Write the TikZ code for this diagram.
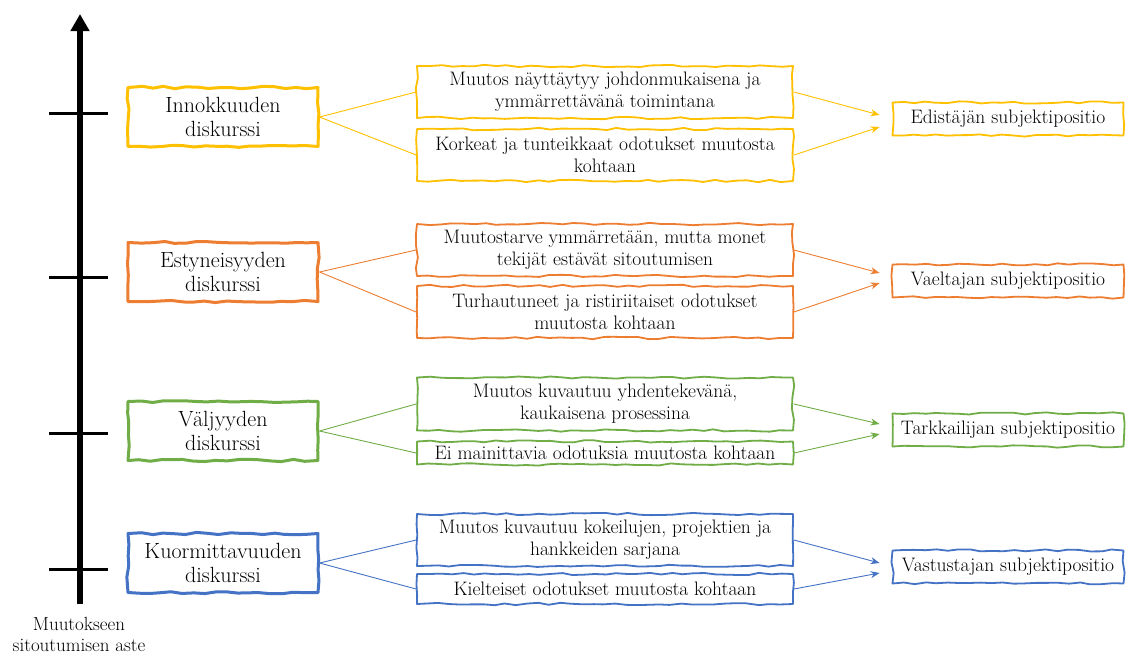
\documentclass[tikz,border=0pt]{standalone}
\usetikzlibrary{decorations.pathmorphing,arrows.meta,calc}
\definecolor{cy}{HTML}{FFC000}
\definecolor{co}{HTML}{ED7D31}
\definecolor{cg}{HTML}{70AD47}
\definecolor{cb}{HTML}{4472C4}
\tikzset{
  sketch/.style={draw, fill=white, decorate, decoration={random steps, segment length=11pt, amplitude=1.2pt}, line join=round},
  leftbox/.style={sketch, line width=3pt, minimum width=190pt, minimum height=59pt, align=center, inner sep=0pt, font=\fontsize{22}{24}\selectfont},
  midbox/.style={sketch, line width=1.8pt, minimum width=376pt, align=center, inner sep=0pt, font=\fontsize{19.5}{22}\selectfont},
  rightbox/.style={sketch, line width=1.8pt, minimum width=231pt, minimum height=33pt, inner sep=0pt, font=\fontsize{19.5}{22}\selectfont},
  link/.style={line width=0.9pt},
  arr/.style={line width=0.9pt, -{Stealth[length=9pt,width=7pt]}},
  tick/.style={line width=3pt},
  axislbl/.style={align=center, font=\fontsize{19}{21}\selectfont},
}
\begin{document}
\begin{tikzpicture}[x=1pt,y=-1pt]
\pgfmathsetseed{7}
\useasboundingbox (0,0) rectangle (1130,657);
% axis
\coordinate (axb) at (80,604);
\coordinate (axt) at (80,14);
\draw[line width=6pt, -{Triangle[length=17pt,width=18pt]}] (axb) -- (axt);
\foreach \yy/\nm in {113/t1,277/t2,433/t3,569/t4}{
  \coordinate (\nm a) at (49,\yy);
  \coordinate (\nm b) at (108,\yy);
  \draw[tick] (\nm a) -- (\nm b);
}
\node[axislbl] (axlabel) at (79,634) {Muutokseen\\sitoutumisen aste};

% ---------- yellow ----------
\node[leftbox, draw=cy] (L1) at (223,117) {Innokkuuden\\diskurssi};
\node[midbox, draw=cy, minimum height=52pt] (M1a) at (605,92) {Muutos näyttäytyy johdonmukaisena ja\\ymmärrettävänä toimintana};
\node[midbox, draw=cy, minimum height=52pt] (M1b) at (605,155) {Korkeat ja tunteikkaat odotukset muutosta\\kohtaan};
\node[rightbox, draw=cy] (R1) at (1008,119) {Edistäjän subjektipositio};
\draw[link, cy] (L1.east) -- (M1a.west);
\draw[link, cy] (L1.east) -- (M1b.west);
\draw[arr, cy] (M1a.east) -- ($(R1.west)+(-12,-4)$);
\draw[arr, cy] (M1b.east) -- ($(R1.west)+(-12,8)$);

% ---------- orange ----------
\node[leftbox, draw=co] (L2) at (223,272) {Estyneisyyden\\diskurssi};
\node[midbox, draw=co, minimum height=52pt] (M2a) at (605,250) {Muutostarve ymmärretään, mutta monet\\tekijät estävät sitoutumisen};
\node[midbox, draw=co, minimum height=52pt] (M2b) at (605,312) {Turhautuneet ja ristiriitaiset odotukset\\muutosta kohtaan};
\node[rightbox, draw=co] (R2) at (1008,281) {Vaeltajan subjektipositio};
\draw[link, co] (L2.east) -- (M2a.west);
\draw[link, co] (L2.east) -- (M2b.west);
\draw[arr, co] (M2a.east) -- ($(R2.west)+(-12,-8)$);
\draw[arr, co] (M2b.east) -- ($(R2.west)+(-12,2)$);

% ---------- green ----------
\node[leftbox, draw=cg] (L3) at (223,431) {Väljyyden\\diskurssi};
\node[midbox, draw=cg, minimum height=53pt] (M3a) at (605,404) {Muutos kuvautuu yhdentekevänä,\\kaukaisena prosessina};
\node[midbox, draw=cg, minimum height=23pt] (M3b) at (605,453) {Ei mainittavia odotuksia muutosta kohtaan};
\node[rightbox, draw=cg] (R3) at (1008,430) {Tarkkailijan subjektipositio};
\draw[link, cg] (L3.east) -- (M3a.west);
\draw[link, cg] (L3.east) -- (M3b.west);
\draw[arr, cg] (M3a.east) -- ($(R3.west)+(-12,-6)$);
\draw[arr, cg] (M3b.east) -- ($(R3.west)+(-12,4)$);

% ---------- blue ----------
\node[leftbox, draw=cb] (L4) at (223,563) {Kuormittavuuden\\diskurssi};
\node[midbox, draw=cb, minimum height=52pt] (M4a) at (605,540) {Muutos kuvautuu kokeilujen, projektien ja\\hankkeiden sarjana};
\node[midbox, draw=cb, minimum height=30pt] (M4b) at (605,589) {Kielteiset odotukset muutosta kohtaan};
\node[rightbox, draw=cb] (R4) at (1008,567) {Vastustajan subjektipositio};
\draw[link, cb] (L4.east) -- (M4a.west);
\draw[link, cb] (L4.east) -- (M4b.west);
\draw[arr, cb] (M4a.east) -- ($(R4.west)+(-12,-4)$);
\draw[arr, cb] (M4b.east) -- ($(R4.west)+(-12,6)$);
\end{tikzpicture}
\end{document}
